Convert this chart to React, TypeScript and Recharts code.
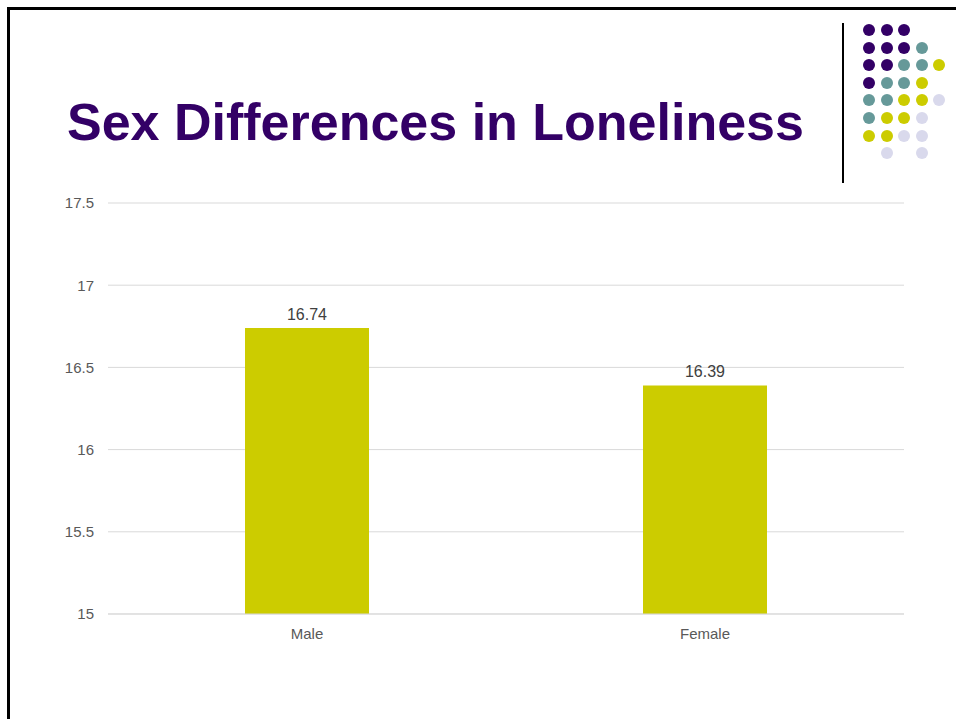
import React from 'react';
import { BarChart, Bar, XAxis, YAxis, CartesianGrid, LabelList } from 'recharts';

const categories = ['Male', 'Female'];
const scores = [16.74, 16.39];
const yTicks = [15, 15.5, 16, 16.5, 17, 17.5];

// decorative dot grid, top right (P purple, T teal, Y yellow, L lavender)
const dotRows = ['PPP', 'PPPT', 'PPTTY', 'PTTY', 'TTYYL', 'TYYL', 'YYLL', '.L.L'];
const dotColors: Record<string, string> = {
    P: '#330066',
    T: '#669999',
    Y: '#cccc00',
    L: '#d9d9ec'
};

const data = categories.map((name, i) => ({ name, score: scores[i] }));

const font = '"Liberation Sans", Arial, sans-serif';

const App: React.FC = () => {
    return (
        <div style={{ position: 'absolute', left: 0, top: 0, width: 956, height: 719, background: '#fff', overflow: 'hidden', fontFamily: font }}>
            {/* slide frame */}
            <div style={{ position: 'absolute', left: 7, top: 7, width: 960, height: 3, background: '#000' }} />
            <div style={{ position: 'absolute', left: 7, top: 7, width: 3, height: 720, background: '#000' }} />

            {/* vertical rule + dots */}
            <div style={{ position: 'absolute', left: 842, top: 23, width: 2, height: 160, background: '#000' }} />
            {dotRows.map((row, r) =>
                row.split('').map((c, k) =>
                    c === '.' ? null : (
                        <div
                            key={`${r}-${k}`}
                            style={{
                                position: 'absolute',
                                left: 869 + k * 17.6 - 6,
                                top: 30 + r * 17.6 - 6,
                                width: 12,
                                height: 12,
                                borderRadius: 6,
                                background: dotColors[c]
                            }}
                        />
                    )
                )
            )}

            <div
                style={{
                    position: 'absolute',
                    left: 67,
                    top: 96,
                    fontSize: 52,
                    lineHeight: 1,
                    fontWeight: 'bold',
                    color: '#330066',
                    whiteSpace: 'nowrap'
                }}
            >
                Sex Differences in Loneliness
            </div>

            <div style={{ position: 'absolute', left: 0, top: 0 }}>
                <BarChart
                    width={956}
                    height={719}
                    data={data}
                    margin={{ top: 203, right: 52, bottom: 75, left: 48 }}
                >
                    <CartesianGrid vertical={false} stroke="#d9d9d9" />
                    <XAxis
                        dataKey="name"
                        height={30}
                        stroke="#d9d9d9"
                        tickLine={false}
                        tickMargin={8}
                        tick={{ fill: '#595959', fontSize: 15, fontFamily: font }}
                    />
                    <YAxis
                        width={60}
                        domain={[15, 17.5]}
                        ticks={yTicks}
                        axisLine={false}
                        tickLine={false}
                        tickMargin={8}
                        tick={{ fill: '#595959', fontSize: 15, fontFamily: font }}
                    />
                    <Bar dataKey="score" fill="#cccc00" barSize={124} isAnimationActive={false}>
                        <LabelList
                            dataKey="score"
                            position="top"
                            offset={8}
                            fill="#404040"
                            fontSize={16}
                            fontFamily={font}
                        />
                    </Bar>
                </BarChart>
            </div>
        </div>
    );
};

export default App;
